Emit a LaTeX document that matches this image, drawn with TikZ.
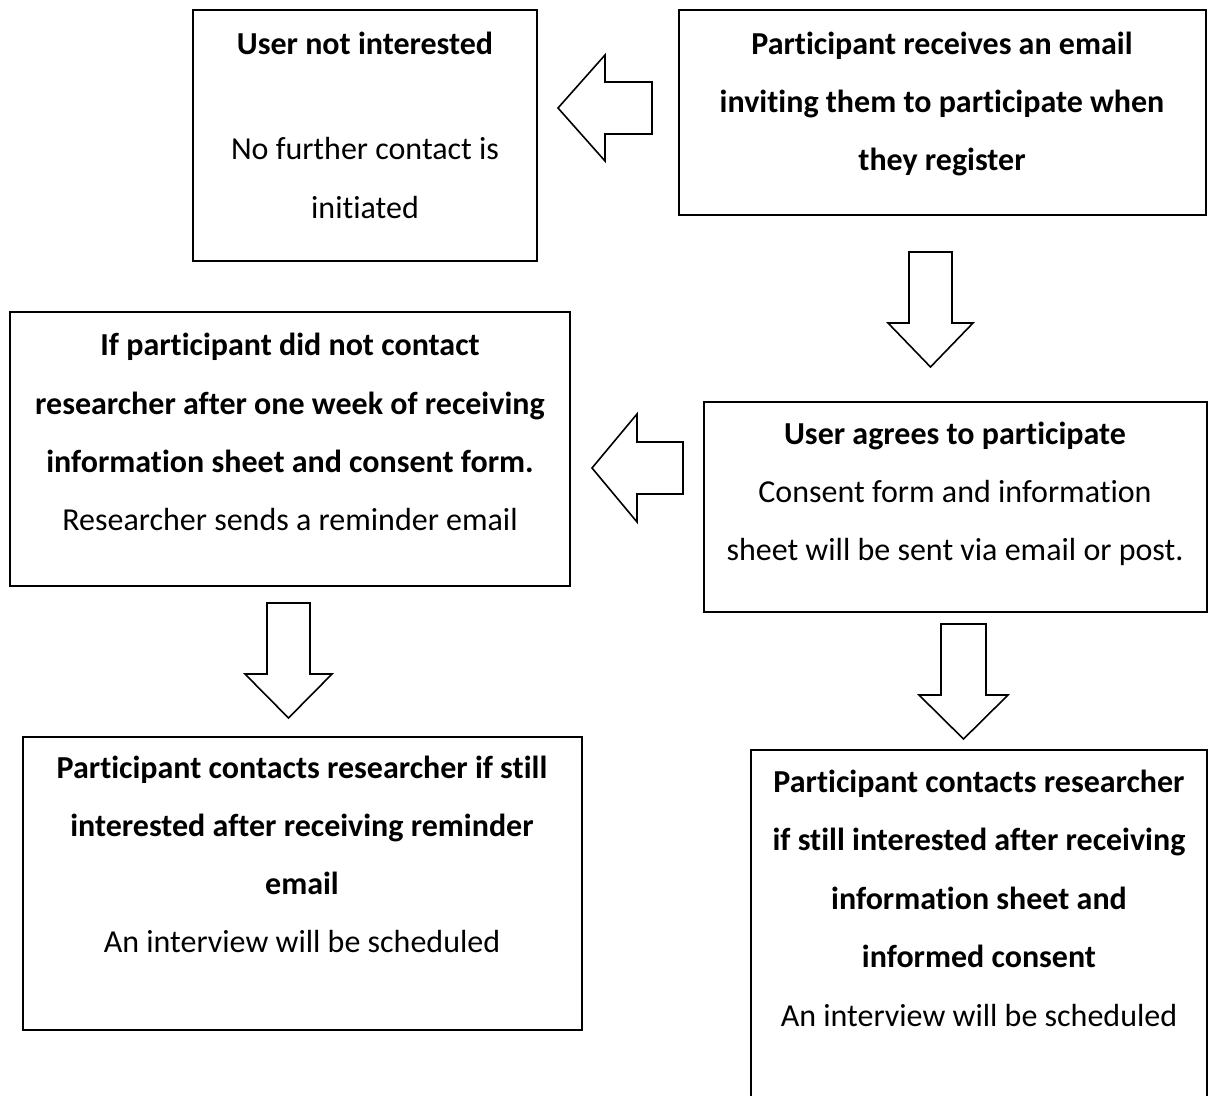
\documentclass[tikz,border=0pt]{standalone}
\usepackage{fontspec}
\setmainfont{Carlito}[Ligatures=NoCommon]
\begin{document}
\begin{tikzpicture}[x=1pt,y=-1pt,
  box/.style={draw, line width=2.2pt, rectangle, inner sep=0pt},
  blockarrow/.style={draw, line width=1.6pt, line join=miter, fill=white},
  txt/.style={anchor=base, inner sep=0pt, font=\fontsize{32}{36}\selectfont},
  hd/.style={anchor=base, inner sep=0pt, font=\fontsize{32}{36}\selectfont\bfseries}]
\useasboundingbox (0,0) rectangle (1209,1095);

% boxes
\node[box, minimum width=344pt, minimum height=251pt] (notint) at (365,135.5) {};
\node[box, minimum width=527pt, minimum height=205pt] (invite) at (942.5,112.5) {};
\node[box, minimum width=560pt, minimum height=274pt] (remind) at (290,449) {};
\node[box, minimum width=503pt, minimum height=210pt] (agree) at (955.5,507) {};
\node[box, minimum width=559pt, minimum height=293pt] (contactR) at (302.5,883.5) {};
\node[box, minimum width=456pt, minimum height=370pt] (contactI) at (979,935) {};

% texts
\node[hd]  (n1) at (365,54)  {User not interested};
\node[txt] (n2) at (365,159) {No further contact is};
\node[txt] (n3) at (365,218) {initiated};

\node[hd] (i1) at (942,54)  {Participant receives an email};
\node[hd] (i2) at (942,112) {inviting them to participate when};
\node[hd] (i3) at (942,170) {they register};

\node[hd]  (r1) at (290,355) {If participant did not contact};
\node[hd]  (r2) at (290,414) {researcher after one week of receiving};
\node[hd]  (r3) at (290,472) {information sheet and consent form.};
\node[txt] (r4) at (290,530) {Researcher sends a reminder email};

\node[hd]  (a1) at (955,444) {User agrees to participate};
\node[txt] (a2) at (955,502) {Consent form and information};
\node[txt] (a3) at (955,560) {sheet will be sent via email or post.};

\node[hd]  (c1) at (302,778) {Participant contacts researcher if still};
\node[hd]  (c2) at (302,836) {interested after receiving reminder};
\node[hd]  (c3) at (302,894) {email};
\node[txt] (c4) at (302,952) {An interview will be scheduled};

\node[hd]  (s1) at (979,792)  {Participant contacts researcher};
\node[hd]  (s2) at (979,850)  {if still interested after receiving};
\node[hd]  (s3) at (979,909)  {information sheet and};
\node[hd]  (s4) at (979,967)  {informed consent};
\node[txt] (s5) at (979,1026) {An interview will be scheduled};

% block arrows
\draw[blockarrow] (558,108) -- (605,55) -- (605,82) -- (652,82) -- (652,134)
  -- (605,134) -- (605,161) -- cycle;
\draw[blockarrow] (909,252) -- (952,252) -- (952,323) -- (973,323) -- (930.5,367)
  -- (888,323) -- (909,323) -- cycle;
\draw[blockarrow] (592,468) -- (637,414) -- (637,442) -- (683,442) -- (683,494)
  -- (637,494) -- (637,522) -- cycle;
\draw[blockarrow] (267,603) -- (310,603) -- (310,674) -- (332,674) -- (288.5,718)
  -- (245,674) -- (267,674) -- cycle;
\draw[blockarrow] (941,624) -- (986,624) -- (986,695) -- (1008,695) -- (963.5,739)
  -- (919,695) -- (941,695) -- cycle;
\end{tikzpicture}
\end{document}
